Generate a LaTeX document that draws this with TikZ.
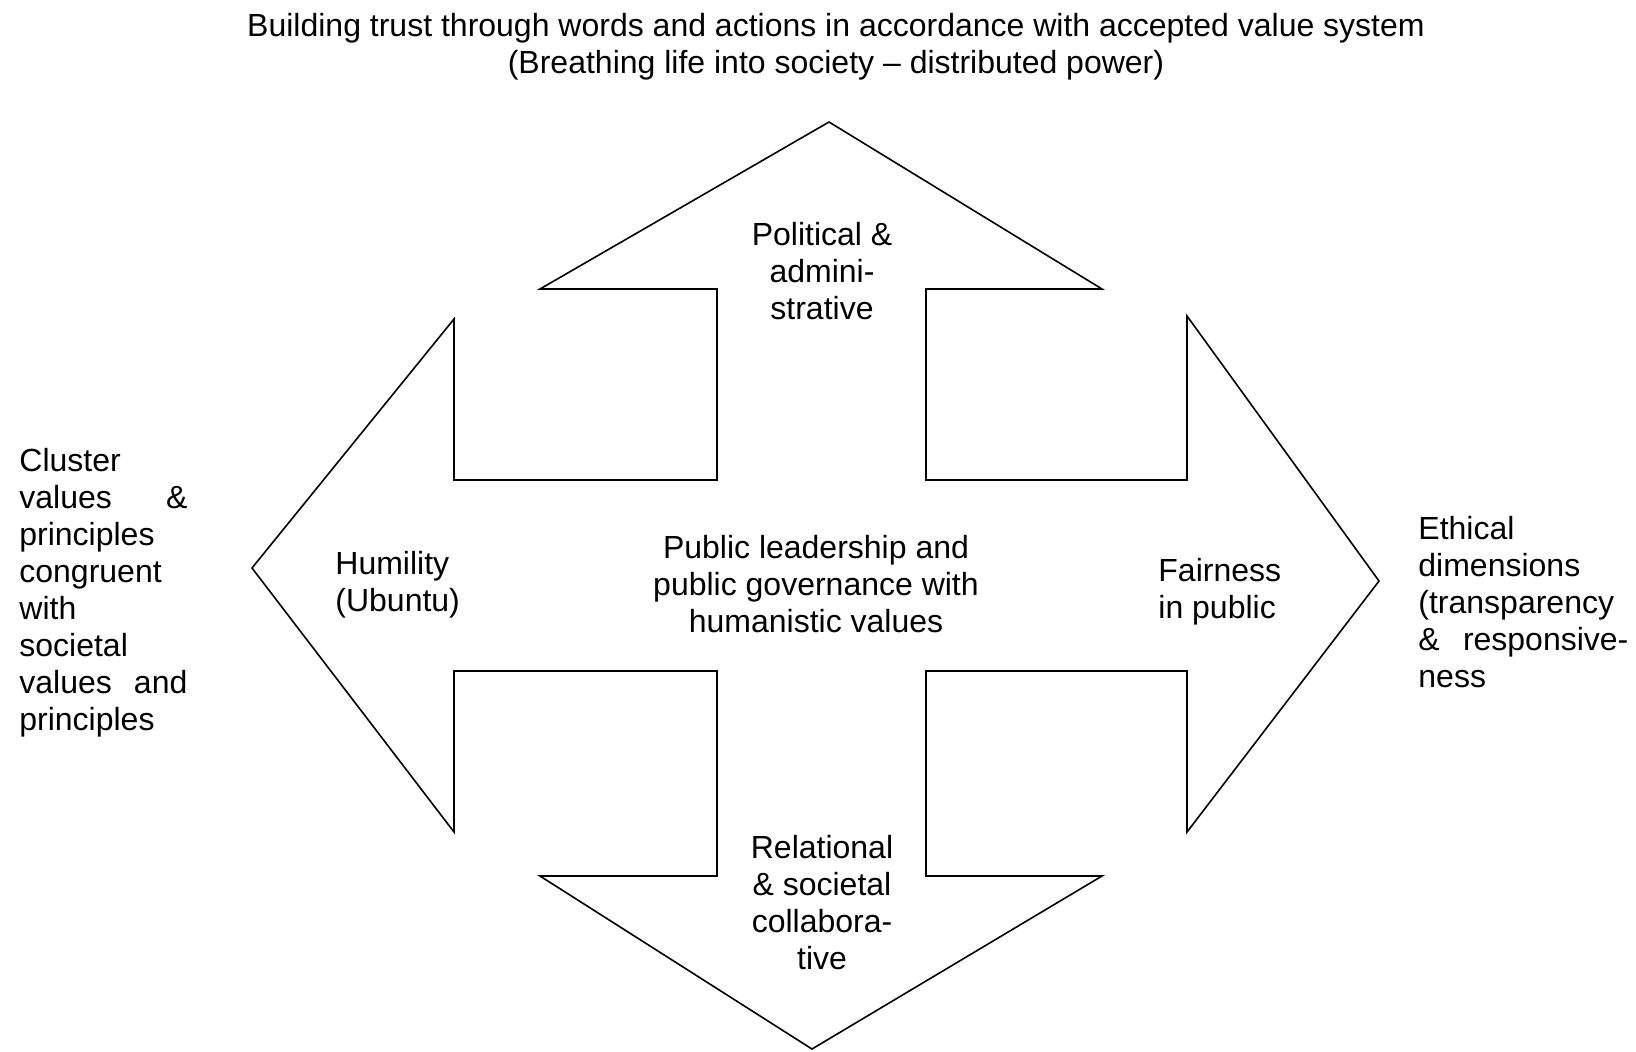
\documentclass[tikz,border=0pt]{standalone}
\usepackage{fontspec}
\setmainfont{Liberation Sans}
\usetikzlibrary{positioning}
\tikzstyle{txt}=[font=\fontsize{16}{18.5}\selectfont,inner sep=0,align=center]
\tikzstyle{side}=[txt,align=left,anchor=west]
\tikzstyle{quad}=[line width=0.8pt,line join=miter]
\begin{document}
\begin{tikzpicture}[x=0.5pt,y=-0.5pt]
\useasboundingbox (0,0) rectangle (1636,1051);

% four-way arrow outline
\draw[quad] (717,480) -- (717,289) -- (540,289) -- (829,122) -- (1102,289) -- (926,289) -- (926,480)
 -- (1187,480) -- (1187,316) -- (1379,581) -- (1187,832) -- (1187,671) -- (926,671)
 -- (926,876) -- (1102,876) -- (812,1049) -- (540,876) -- (717,876) -- (717,671)
 -- (454,671) -- (454,832) -- (252,568) -- (454,319) -- (454,480) -- cycle;

\node[txt] (title) at (836,47) {Building trust through words and actions in accordance with accepted value system\\(Breathing life into society -- distributed power)};

\node[txt] (pol) at (822,271) {Political \&\\admini-\\strative};
\node[txt] (core) at (816,584) {Public leadership and\\public governance with\\humanistic values};
\node[side] (hum) at (335,585) {Humility\\(Ubuntu)};
\node[side] (fair) at (1158,592) {Fairness\\in public};
\node[txt] (rel) at (822,903) {Relational\\\& societal\\collabora-\\tive};

\node[side,text width=84pt] (cluster) at (19,593) {Cluster\\values \hfill \&\\principles\\congruent\\with\\societal\\values \hfill and\\principles};
\node[side,text width=105pt] (ethic) at (1418,602) {Ethical\\dimensions\\(transparency\\\& \hfill responsive-\\ness};
\end{tikzpicture}
\end{document}
